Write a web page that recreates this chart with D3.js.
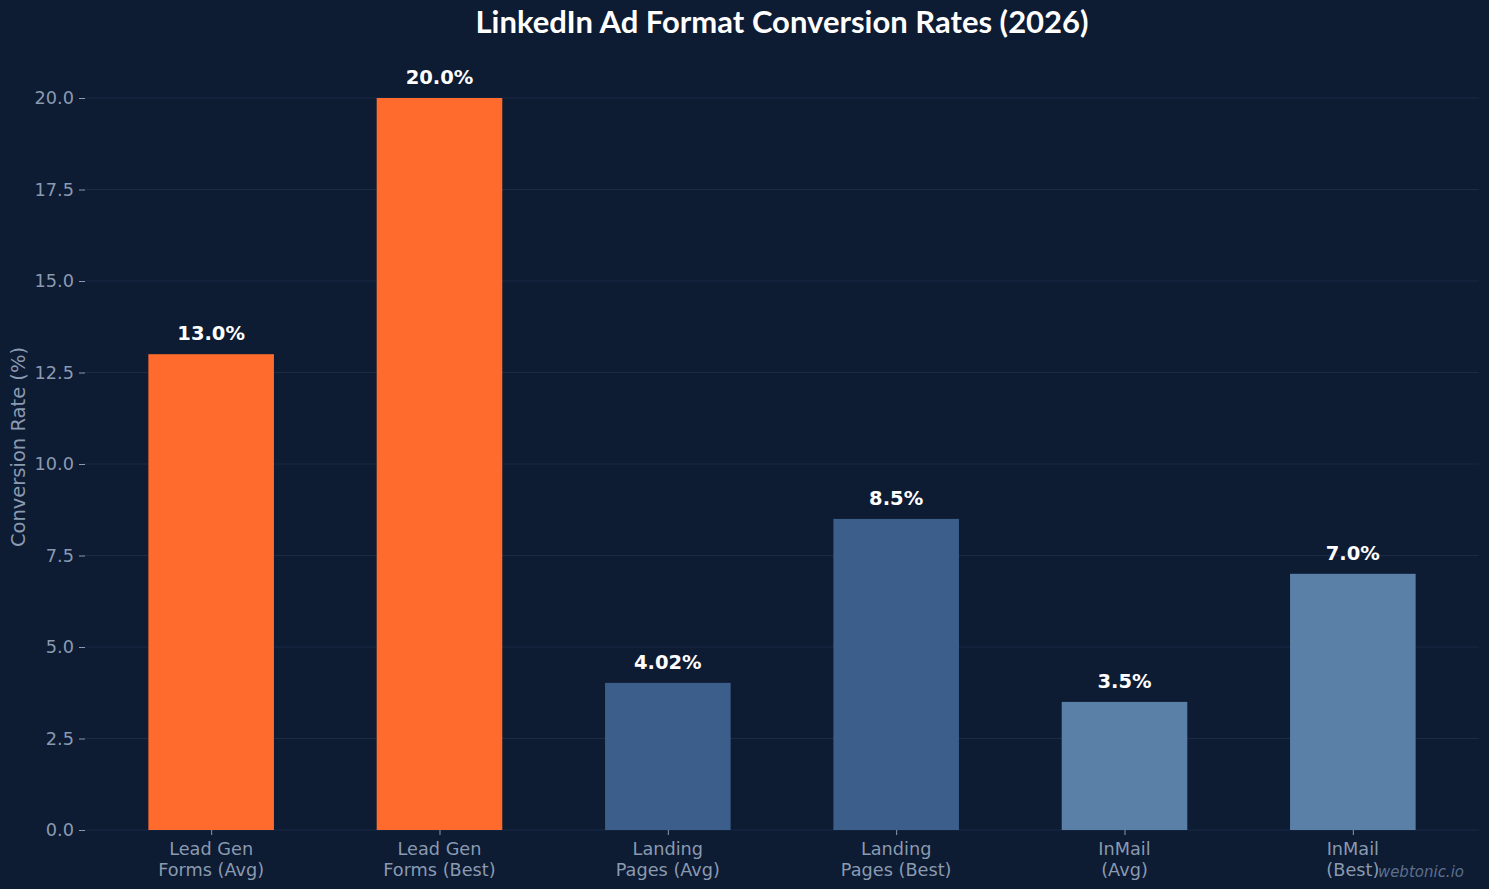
<!DOCTYPE html>
<html>
<head>
<meta charset="utf-8">
<script src="https://cdn.jsdelivr.net/npm/d3@7"></script>
<style>
  html, body { margin: 0; padding: 0; background: #0d1b33; }
  svg { display: block; }
</style>
</head>
<body>
<div id="root"></div>
<script>
// data
const categories = ["Lead Gen\nForms (Avg)", "Lead Gen\nForms (Best)", "Landing\nPages (Avg)", "Landing\nPages (Best)", "InMail\n(Avg)", "InMail\n(Best)"];
const rates = [13.0, 20.0, 4.02, 8.5, 3.5, 7.0];
const valueLabels = ["13.0%", "20.0%", "4.02%", "8.5%", "3.5%", "7.0%"];
const barColors = ["#ff6b2c", "#ff6b2c", "#3b5f8a", "#3b5f8a", "#5b80a8", "#5b80a8"];
const yTicks = [0, 2.5, 5, 7.5, 10, 12.5, 15, 17.5, 20];

const W = 1489, H = 889;
const plotLeft = 85, plotRight = 1479, plotTop = 61.4, plotBottom = 830;

const svg = d3.select('#root').append('svg')
  .attr('width', W).attr('height', H)
  .style('background-color', '#0d1b33');

// scales - matplotlib-ish limits
const x = d3.scaleLinear().domain([-0.5525, 5.5525]).range([plotLeft, plotRight]);
const y = d3.scaleLinear().domain([0, 21]).range([plotBottom, plotTop]);
const barW = x(0.55) - x(0);

// grid
svg.append('g').selectAll('line').data(yTicks).enter().append('line')
  .attr('x1', plotLeft).attr('x2', plotRight)
  .attr('y1', d => y(d)).attr('y2', d => y(d))
  .style('stroke', '#1b2b47').style('stroke-width', 1);

// bars
svg.append('g').selectAll('rect').data(rates).enter().append('rect')
  .attr('x', (d, i) => x(i) - barW / 2)
  .attr('y', d => y(d))
  .attr('width', barW)
  .attr('height', d => y(0) - y(d))
  .style('fill', (d, i) => barColors[i]);

// value labels
svg.append('g').selectAll('text').data(rates).enter().append('text')
  .attr('x', (d, i) => x(i))
  .attr('y', d => y(d) - 14)
  .attr('text-anchor', 'middle')
  .style('font-family', 'DejaVu Sans')
  .style('font-weight', 'bold')
  .style('font-size', '19.5px')
  .style('fill', '#ffffff')
  .text((d, i) => valueLabels[i]);

// y axis
let yAxis = svg.append('g')
  .attr('transform', `translate(${plotLeft},0)`)
  .call(d3.axisLeft(y).tickValues(yTicks).tickFormat(d3.format('.1f')).tickSize(6).tickPadding(5));
yAxis.select('.domain').remove();
yAxis.selectAll('line').style('stroke', '#8a9ab0');
yAxis.selectAll('text')
  .style('font-family', 'DejaVu Sans').style('font-size', '17.7px').style('fill', '#8a9ab0');

// x axis
let xAxis = svg.append('g')
  .attr('transform', `translate(0,${plotBottom})`)
  .call(d3.axisBottom(x).tickValues(d3.range(categories.length)).tickSize(5).tickFormat(''));
xAxis.select('.domain').remove();
xAxis.selectAll('line').style('stroke', '#8a9ab0');

svg.append('g').selectAll('text').data(categories).enter().append('text')
  .attr('x', (d, i) => x(i))
  .attr('y', 855)
  .attr('text-anchor', 'middle')
  .style('font-family', 'DejaVu Sans').style('font-size', '17.7px').style('fill', '#8a9ab0')
  .each(function (d) {
    let t = d3.select(this);
    d.split('\n').forEach((line, k) => {
      t.append('tspan')
        .attr('x', t.attr('x'))
        .attr('dy', k === 0 ? 0 : 21)
        .text(line);
    });
  });

// y axis label
svg.append('text')
  .attr('transform', `translate(25,447) rotate(-90)`)
  .attr('text-anchor', 'middle')
  .style('font-family', 'DejaVu Sans').style('font-size', '19.5px').style('fill', '#8a9ab0')
  .text('Conversion Rate (%)');

// title
svg.append('text')
  .attr('x', (plotLeft + plotRight) / 2)
  .attr('y', 33)
  .attr('text-anchor', 'middle')
  .style('font-family', 'Lato').style('font-weight', 'bold').style('font-size', '31px')
  .style('fill', '#ffffff')
  .text('LinkedIn Ad Format Conversion Rates (2026)');

// watermark
svg.append('text')
  .attr('x', 1464).attr('y', 877)
  .attr('text-anchor', 'end')
  .style('font-family', 'DejaVu Sans').style('font-style', 'italic').style('font-size', '15px')
  .style('fill', '#5d6f8c')
  .text('webtonic.io');
</script>
</body>
</html>
